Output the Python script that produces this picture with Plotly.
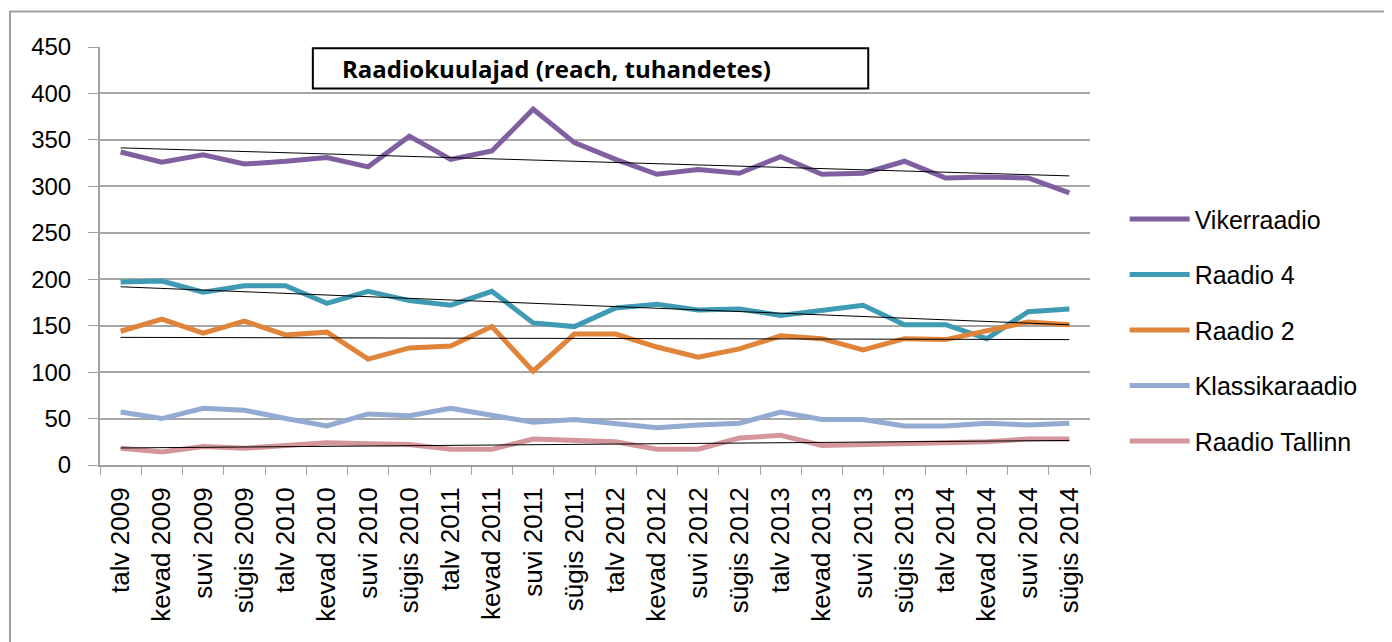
import numpy as np
import plotly.graph_objects as go

# Raadiokuulajad (reach, tuhandetes)
periods = ["talv 2009", "kevad 2009", "suvi 2009", "sügis 2009",
           "talv 2010", "kevad 2010", "suvi 2010", "sügis 2010",
           "talv 2011", "kevad 2011", "suvi 2011", "sügis 2011",
           "talv 2012", "kevad 2012", "suvi 2012", "sügis 2012",
           "talv 2013", "kevad 2013", "suvi 2013", "sügis 2013",
           "talv 2014", "kevad 2014", "suvi 2014", "sügis 2014"]

vikerraadio = [337, 326, 334, 324, 327, 331, 321, 354, 329, 338, 383, 347,
               329, 313, 318, 314, 332, 313, 314, 327, 309, 310, 309, 293]
raadio4 = [197, 198, 186, 193, 193, 174, 187, 177, 172, 187, 153, 149,
           169, 173, 167, 168, 161, 167, 172, 151, 151, 136, 165, 168]
raadio2 = [144, 157, 142, 155, 140, 143, 114, 126, 128, 149, 101, 141,
           141, 127, 116, 125, 139, 136, 124, 136, 135, 145, 154, 151]
klassikaraadio = [57, 50, 61, 59, 50, 42, 55, 53, 61, 54, 46, 49,
                  45, 40, 43, 45, 57, 49, 49, 42, 42, 45, 43, 45]
tallinn = [18, 14, 20, 18, 21, 24, 23, 22, 17, 17, 28, 26,
           25, 17, 17, 29, 32, 21, 22, 22, 23, 25, 28, 28]

series = [
    ("Vikerraadio", vikerraadio, "#7F5FA0", True),
    ("Raadio 4", raadio4, "#3E9BB3", True),
    ("Raadio 2", raadio2, "#E0843A", True),
    ("Klassikaraadio", klassikaraadio, "#93AAD2", False),
    ("Raadio Tallinn", tallinn, "#D4969A", True),
]

font_family = "Liberation Sans, Arial"

fig = go.Figure()
idx = np.arange(len(periods))
for name, vals, color, has_trend in series:
    fig.add_trace(go.Scatter(x=periods, y=vals, name=name, mode="lines",
                             legendgroup=name,
                             line=dict(color=color, width=5)))
for name, vals, color, has_trend in series:
    if has_trend:
        # linear trend line, like the spreadsheet's trendline
        k, b = np.polyfit(idx, vals, 1)
        fig.add_trace(go.Scatter(x=periods, y=k * idx + b, mode="lines",
                                 line=dict(color="black", width=1),
                                 showlegend=False, hoverinfo="skip"))

fig.update_layout(
    width=1392, height=642,
    margin=dict(l=92, r=310, t=39, b=185),
    paper_bgcolor="white", plot_bgcolor="white",
    font=dict(family=font_family, color="black"),
    legend=dict(x=1.035, y=0.643, xanchor="left", yanchor="top",
                font=dict(size=25), tracegroupgap=20, itemwidth=60,
                bgcolor="rgba(0,0,0,0)"),
    shapes=[
        dict(type="rect", xref="paper", yref="paper",
             x0=-0.0909, x1=1.298, y0=-0.6, y1=1.085,
             line=dict(color="#A0A0A0", width=2), layer="below"),
        dict(type="rect", xref="paper", yref="paper",
             x0=0.215, x1=0.776, y0=0.901, y1=0.997,
             line=dict(color="black", width=2), fillcolor="white", layer="above"),
    ],
    annotations=[
        dict(text="<b>Raadiokuulajad (reach, tuhandetes)</b>", xref="paper", yref="paper",
             x=0.2424, y=0.949, xanchor="left", yanchor="middle", showarrow=False,
             font=dict(size=24, family="Open Sans, Liberation Sans", color="black")),
    ],
)

fig.update_xaxes(
    type="category", tickangle=-90, tickfont=dict(size=26),
    showline=True, linecolor="#A0A0A0", linewidth=2,
    ticks="outside", tickson="boundaries", ticklen=8, tickcolor="#A0A0A0",
    showgrid=False, range=[-0.5, len(periods) - 0.5], ticklabelstandoff=10,
)
fig.update_yaxes(
    range=[0, 450], dtick=50, tickfont=dict(size=24),
    showline=True, linecolor="#A0A0A0", linewidth=2,
    ticks="outside", ticklen=10, tickcolor="#A0A0A0",
    showgrid=True, gridcolor="#A6A6A6", gridwidth=1.5,
    zeroline=False, ticklabelstandoff=12,
)

fig.write_html("out.html")
